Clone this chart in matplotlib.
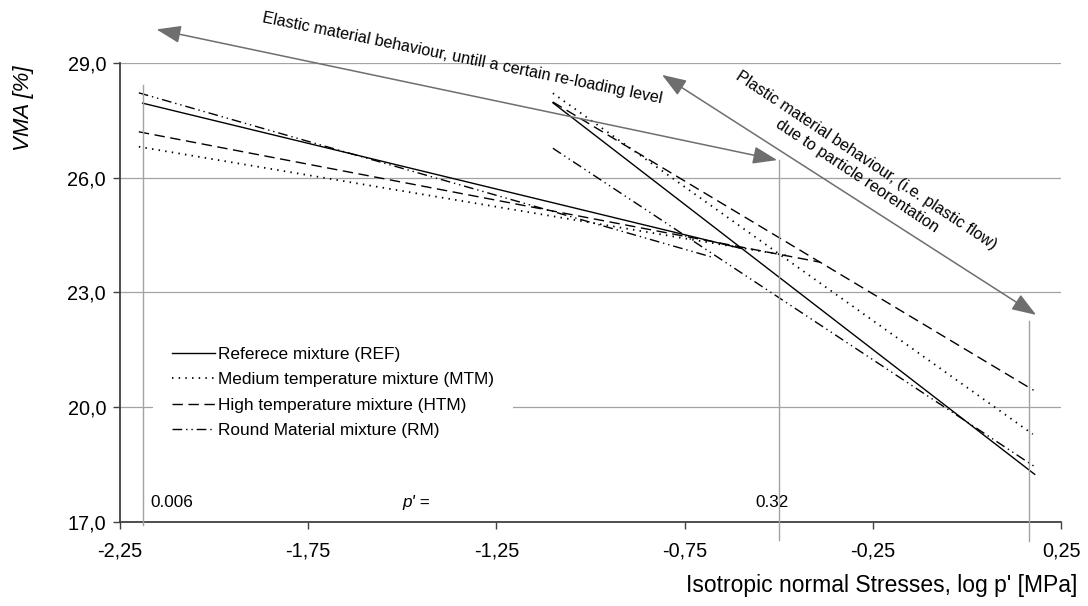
import matplotlib
matplotlib.use('Agg')
import matplotlib.pyplot as plt

plt.rcParams['font.family'] = ['Liberation Sans', 'DejaVu Sans']

# ---------------- data ----------------
series_labels = ['Referece mixture (REF)', 'Medium temperature mixture (MTM)',
                 'High temperature mixture (HTM)', 'Round Material mixture (RM)']

REF_elastic_x = [-2.19, -0.60]
REF_elastic_y = [27.95, 24.15]
REF_plastic_x = [-1.10, 0.18]
REF_plastic_y = [27.96, 18.24]

MTM_elastic_x = [-2.20, -0.47]
MTM_elastic_y = [26.81, 23.95]
MTM_plastic_x = [-1.10, 0.175]
MTM_plastic_y = [28.21, 19.29]

HTM_elastic_x = [-2.20, -0.39]
HTM_elastic_y = [27.20, 23.79]
HTM_plastic_x = [-1.10, 0.177]
HTM_plastic_y = [27.98, 20.44]

RM_elastic_x = [-2.20, -0.68]
RM_elastic_y = [28.22, 23.93]
RM_plastic_x = [-1.10, 0.18]
RM_plastic_y = [26.77, 18.44]

x_ticks = [-2.25, -1.75, -1.25, -0.75, -0.25, 0.25]
x_tick_labels = ['-2,25', '-1,75', '-1,25', '-0,75', '-0,25', '0,25']
y_ticks = [17, 20, 23, 26, 29]
y_tick_labels = ['17,0', '20,0', '23,0', '26,0', '29,0']

marker_x = [-2.19, -0.498, 0.165]       # log p' reference levels
marker_text = ['0.006', '0.32']

# ---------------- figure ----------------
fig = plt.figure(figsize=(10.88, 6.06), dpi=100)
ax = fig.add_axes([0.1103, 0.1391, 0.8649, 0.7569])
ax.set_xlim(-2.25, 0.25)
ax.set_ylim(17, 29)

grid_c = '#a3a3a3'
ax.yaxis.grid(True, color=grid_c, lw=0.9, zorder=0)
ax.set_axisbelow(True)
for s in ['top', 'right']:
    ax.spines[s].set_visible(False)
for s in ['left', 'bottom']:
    ax.spines[s].set_color('#404040')
    ax.spines[s].set_linewidth(1.3)

ax.set_xticks(x_ticks)
ax.set_xticklabels(x_tick_labels)
ax.set_yticks(y_ticks)
ax.set_yticklabels(y_tick_labels)
ax.tick_params(axis='x', direction='out', length=5, width=1, color='#404040',
               labelsize=14.3, pad=9)
ax.tick_params(axis='y', direction='out', length=5, width=1, color='#404040',
               labelsize=14.3, pad=5)

styles = ['-', (0, (0.8, 2.9)), (0, (7.5, 4)), (0, (7, 2.8, 1, 2.8, 1, 2.8))]
widths = [1.0, 1.3, 1.0, 1.0]
segs = [
    (REF_elastic_x, REF_elastic_y, REF_plastic_x, REF_plastic_y),
    (MTM_elastic_x, MTM_elastic_y, MTM_plastic_x, MTM_plastic_y),
    (HTM_elastic_x, HTM_elastic_y, HTM_plastic_x, HTM_plastic_y),
    (RM_elastic_x, RM_elastic_y, RM_plastic_x, RM_plastic_y),
]
for (ex, ey, px, py), ls, w, lab in zip(segs, styles, widths, series_labels):
    ax.plot(ex, ey, color='black', lw=w, ls=ls, label=lab, zorder=3)
    ax.plot(px, py, color='black', lw=w, ls=ls, zorder=3)

# vertical reference lines
tops = [28.42, 26.46, 22.25]
bots = [16.91, 16.52, 16.50]
for xv, t, b in zip(marker_x, tops, bots):
    ax.plot([xv, xv], [b, t], color=grid_c, lw=1.0, zorder=6, clip_on=False)

ax.text(-2.169, 17.49, marker_text[0], fontsize=12.3, ha='left', va='center')
ax.text(-1.499, 17.49, "p' =", fontsize=12.3, style='italic', ha='left', va='center')
ax.text(-0.563, 17.49, marker_text[1], fontsize=12.3, ha='left', va='center')

leg = ax.legend(loc='upper left', bbox_to_anchor=(153 / 1088, 1 - 328 / 606),
                bbox_transform=fig.transFigure, frameon=True, fontsize=12.4,
                handlelength=2.5, handletextpad=0.2, labelspacing=0.6,
                borderpad=1.1, borderaxespad=0, fancybox=False)
leg.get_frame().set_edgecolor('none')
leg.get_frame().set_facecolor('white')
leg.get_frame().set_alpha(1)
leg.set_zorder(5)

# annotation arrows
arrow_c = '#6e6e6e'
ap = dict(arrowstyle='<|-|>,head_length=0.75,head_width=0.27', color=arrow_c,
          lw=1.1, mutation_scale=20, shrinkA=0, shrinkB=0)
ax.annotate('', xy=(-2.153, 29.88), xytext=(-0.504, 26.46), arrowprops=ap,
            annotation_clip=False)
ax.annotate('', xy=(-0.810, 28.69), xytext=(0.184, 22.41), arrowprops=ap,
            annotation_clip=False)

ax.text(-1.342, 29.13, 'Elastic material behaviour, untill a certain re-loading level',
        fontsize=11.6, rotation=-11.5, rotation_mode='anchor', ha='center',
        va='center', clip_on=False)
ax.text(-0.280, 26.25, 'Plastic material behaviour, (i.e. plastic flow)\ndue to particle reorentation',
        fontsize=11.6, rotation=-33.6, rotation_mode='anchor', ha='center',
        va='center', multialignment='center', clip_on=False, linespacing=1.2)

fig.text(23 / 1088, 1 - 108 / 606, 'VMA [%]', rotation=90, style='italic',
         fontsize=16, ha='center', va='center')
fig.text(1077 / 1088, 1 - 585.7 / 606, "Isotropic normal Stresses, log p' [MPa]",
         fontsize=16.5, ha='right', va='center')

fig.savefig('out.png', dpi=100)
